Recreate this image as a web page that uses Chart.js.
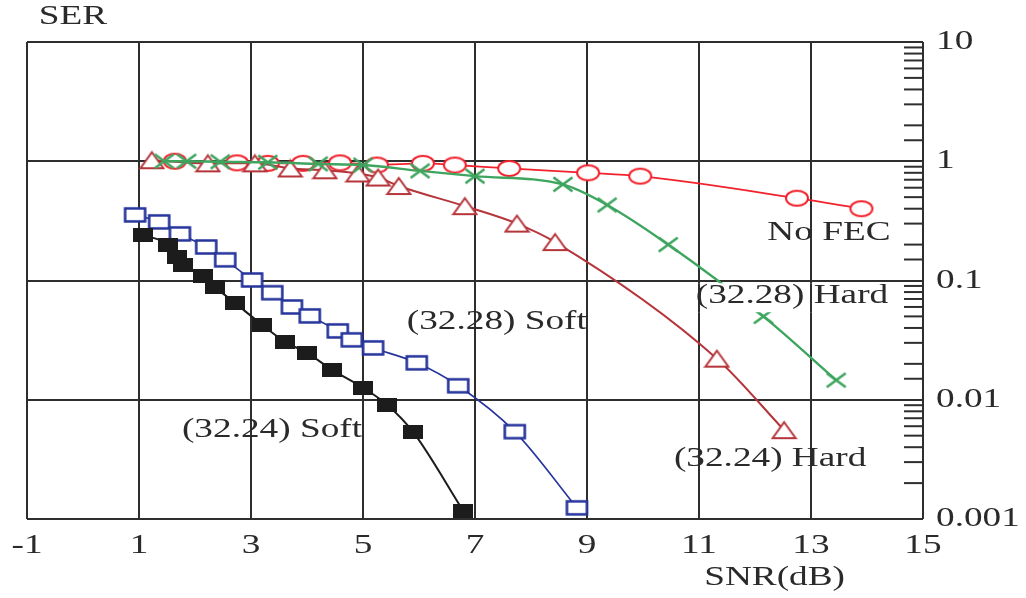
<!DOCTYPE html>
<html>
<head>
<meta charset="utf-8">
<script src="https://cdn.jsdelivr.net/npm/chart.js@4/dist/chart.umd.min.js"></script>
<style>
  body { margin: 0; background: #fff; }
  #wrap { width: 1026px; height: 598px; }
</style>
</head>
<body>
<div id="wrap"><canvas id="serChart"></canvas></div>
<script>
// values (x = SNR in dB, y = SER)
const noFecX = [1.64, 2.75, 3.3, 3.93, 4.59, 5.25, 6.07, 6.64, 7.61, 9.02, 9.95, 12.75, 13.9];
const noFecY = [1.0, 0.97, 0.96, 0.96, 0.97, 0.93, 0.96, 0.93, 0.87, 0.80, 0.75, 0.49, 0.40];

const hard28X = [1.45, 1.85, 2.45, 3.3, 4.2, 5.0, 6.02, 7.0, 8.57, 9.36, 10.45, 12.15, 13.45];
const hard28Y = [1.0, 1.0, 0.99, 0.98, 0.95, 0.93, 0.83, 0.75, 0.64, 0.43, 0.20, 0.05, 0.0146];

const hard24X = [1.23, 2.23, 3.07, 3.7, 4.32, 4.91, 5.27, 5.64, 6.82, 7.75, 8.43, 11.32, 12.52];
const hard24Y = [1.02, 0.96, 0.96, 0.87, 0.84, 0.79, 0.73, 0.62, 0.42, 0.30, 0.21, 0.0221, 0.00556];

const soft28X = [0.93, 1.36, 1.73, 2.2, 2.54, 3.02, 3.38, 3.73, 4.05, 4.55, 4.8, 5.18, 5.96, 6.7, 7.71, 8.82];
const soft28Y = [0.355, 0.31, 0.246, 0.191, 0.149, 0.101, 0.079, 0.06, 0.0505, 0.0378, 0.0318, 0.0272, 0.0204, 0.0131, 0.0054, 0.00124];

const soft24X = [1.07, 1.52, 1.68, 1.79, 2.14, 2.36, 2.71, 3.2, 3.61, 4.0, 4.45, 5.0, 5.43, 5.89, 6.79];
const soft24Y = [0.241, 0.199, 0.158, 0.135, 0.109, 0.088, 0.065, 0.0425, 0.0306, 0.0247, 0.0178, 0.0126, 0.0091, 0.0054, 0.00117];

const xTicks = [-1, 1, 3, 5, 7, 9, 11, 13, 15];
const yTicks = [0.001, 0.01, 0.1, 1, 10];
const yTickLabels = ['0.001', '0.01', '0.1', '1', '10'];

// curve labels, placed in data coordinates
const curveNames = ['No FEC', '(32.28) Hard', '(32.28) Soft', '(32.24) Soft', '(32.24) Hard'];
const curveNameX = [13.32, 12.66, 7.39, 3.375, 12.27];
const curveNameY = [0.249, 0.0738, 0.0447, 0.00556, 0.00318];

const FONT = '27px "Liberation Serif", "DejaVu Serif", serif';
const SX = 1.38;          // the source picture is stretched sideways
const TEXT = '#2a2a2a';
const GRID = '#2e2e2e';

function toPoints(xs, ys) {
	return xs.map((v, i) => ({ x: v, y: ys[i] }));
}

// small canvases used as point styles (markers are wider than tall in the source)
function makeMarker(kind, w, h, color, lw) {
	const c = document.createElement('canvas');
	c.width = Math.round(w + lw * 2);
	c.height = Math.round(h + lw * 2);
	const g = c.getContext('2d');
	g.translate(c.width / 2, c.height / 2);
	g.lineWidth = lw;
	g.strokeStyle = color;
	g.fillStyle = '#fff';
	g.beginPath();
	if (kind === 'ellipse') {
		g.ellipse(0, 0, w / 2, h / 2, 0, 0, Math.PI * 2);
	} else if (kind === 'triangle') {
		g.moveTo(0, -h / 2);
		g.lineTo(w / 2, h / 2);
		g.lineTo(-w / 2, h / 2);
		g.closePath();
	} else if (kind === 'cross') {
		g.moveTo(-w / 2, -h / 2);
		g.lineTo(w / 2, h / 2);
		g.moveTo(w / 2, -h / 2);
		g.lineTo(-w / 2, h / 2);
		g.stroke();
		return c;
	} else if (kind === 'solid') {
		g.rect(-w / 2, -h / 2, w, h);
		g.fillStyle = color;
		g.fill();
		return c;
	} else {
		g.rect(-w / 2, -h / 2, w, h);
	}
	g.fill();
	g.stroke();
	return c;
}

const RED = '#f2222c';
const DARKRED = '#b5353b';
const GREEN = '#3ea55f';
const BLUE = '#26349c';
const BLACK = '#1c1c1c';

function isMajor(v) {
	return yTicks.some((t) => Math.abs(t - v) / t < 1e-6);
}

// white box behind "(32.28) Hard" hides the green line there, grid is kept on top
const labelBox = {
	id: 'labelBox',
	afterDatasetsDraw(chart) {
		const { ctx, scales: { x, y } } = chart;
		const i = 1;
		ctx.save();
		ctx.font = FONT;
		const w = ctx.measureText(curveNames[i]).width * SX;
		const cx = x.getPixelForValue(curveNameX[i]);
		const cy = y.getPixelForValue(curveNameY[i]);
		const top = cy - 13, bottom = cy + 16;
		ctx.fillStyle = '#fff';
		ctx.fillRect(cx - w / 2 - 3, top, w + 6, bottom - top);
		ctx.strokeStyle = GRID;
		ctx.lineWidth = 2;
		xTicks.forEach((t) => {
			const px = x.getPixelForValue(t);
			if (px > cx - w / 2 - 3 && px < cx + w / 2 + 3) {
				ctx.beginPath();
				ctx.moveTo(px, top);
				ctx.lineTo(px, bottom);
				ctx.stroke();
			}
		});
		ctx.restore();
	}
};

const serifText = {
	id: 'serifText',
	afterDraw(chart) {
		const { ctx, chartArea: a, scales: { x, y } } = chart;
		function put(str, px, py, align) {
			ctx.save();
			ctx.translate(px, py);
			ctx.scale(SX, 1);
			ctx.font = FONT;
			ctx.fillStyle = TEXT;
			ctx.textAlign = align || 'center';
			ctx.textBaseline = 'middle';
			ctx.fillText(str, 0, 0);
			ctx.restore();
		}

		// minor log ticks on the right edge
		ctx.save();
		ctx.strokeStyle = GRID;
		ctx.lineWidth = 2;
		y.ticks.forEach((t) => {
			if (isMajor(t.value)) return;
			const py = y.getPixelForValue(t.value);
			ctx.beginPath();
			ctx.moveTo(a.right - 19, py);
			ctx.lineTo(a.right, py);
			ctx.stroke();
		});
		ctx.restore();

		xTicks.forEach((t) => put(String(t), x.getPixelForValue(t), a.bottom + 27));
		yTicks.forEach((t, i) => put(yTickLabels[i], a.right + 13, y.getPixelForValue(t), 'left'));
		curveNames.forEach((s, i) => put(s, x.getPixelForValue(curveNameX[i]), y.getPixelForValue(curveNameY[i])));

		put('SER', a.left + 46, a.top - 25);
		put('SNR(dB)', x.getPixelForValue(12.35), a.bottom + 59);
	}
};

function series(xs, ys, color, width, marker) {
	return {
		data: toPoints(xs, ys),
		borderColor: color,
		borderWidth: width,
		pointStyle: marker,
		pointRadius: 6,
		cubicInterpolationMode: 'monotone',
		fill: false
	};
}

new Chart(document.getElementById('serChart'), {
	type: 'line',
	data: {
		datasets: [
			series(soft24X, soft24Y, BLACK, 2, makeMarker('solid', 20, 14, BLACK, 0)),
			series(soft28X, soft28Y, BLUE, 1.6, makeMarker('box', 20, 13, BLUE, 2.6)),
			series(hard28X, hard28Y, GREEN, 2.4, makeMarker('cross', 19, 14, GREEN, 2.6)),
			series(hard24X, hard24Y, DARKRED, 2, makeMarker('triangle', 23, 16, DARKRED, 2)),
			series(noFecX, noFecY, RED, 1.8, makeMarker('ellipse', 22, 15, RED, 2))
		]
	},
	options: {
		responsive: true,
		maintainAspectRatio: false,
		animation: false,
		layout: { padding: { left: 27, top: 42, right: 0, bottom: 0 } },
		plugins: { legend: { display: false }, tooltip: { enabled: false } },
		scales: {
			x: {
				type: 'linear',
				min: -1,
				max: 15,
				afterBuildTicks: (scale) => { scale.ticks = xTicks.map((v) => ({ value: v })); },
				afterFit: (scale) => { scale.height = 79; },
				ticks: { display: false },
				border: { display: false },
				grid: { color: GRID, lineWidth: 2, drawTicks: false }
			},
			y: {
				type: 'logarithmic',
				position: 'right',
				min: 0.001,
				max: 10,
				afterFit: (scale) => { scale.width = 103; },
				ticks: { display: false },
				border: { display: false },
				grid: {
					drawTicks: false,
					lineWidth: 2,
					color: (c) => (c.tick && isMajor(c.tick.value) ? GRID : 'rgba(0,0,0,0)')
				}
			}
		}
	},
	plugins: [labelBox, serifText]
});
</script>
</body>
</html>
